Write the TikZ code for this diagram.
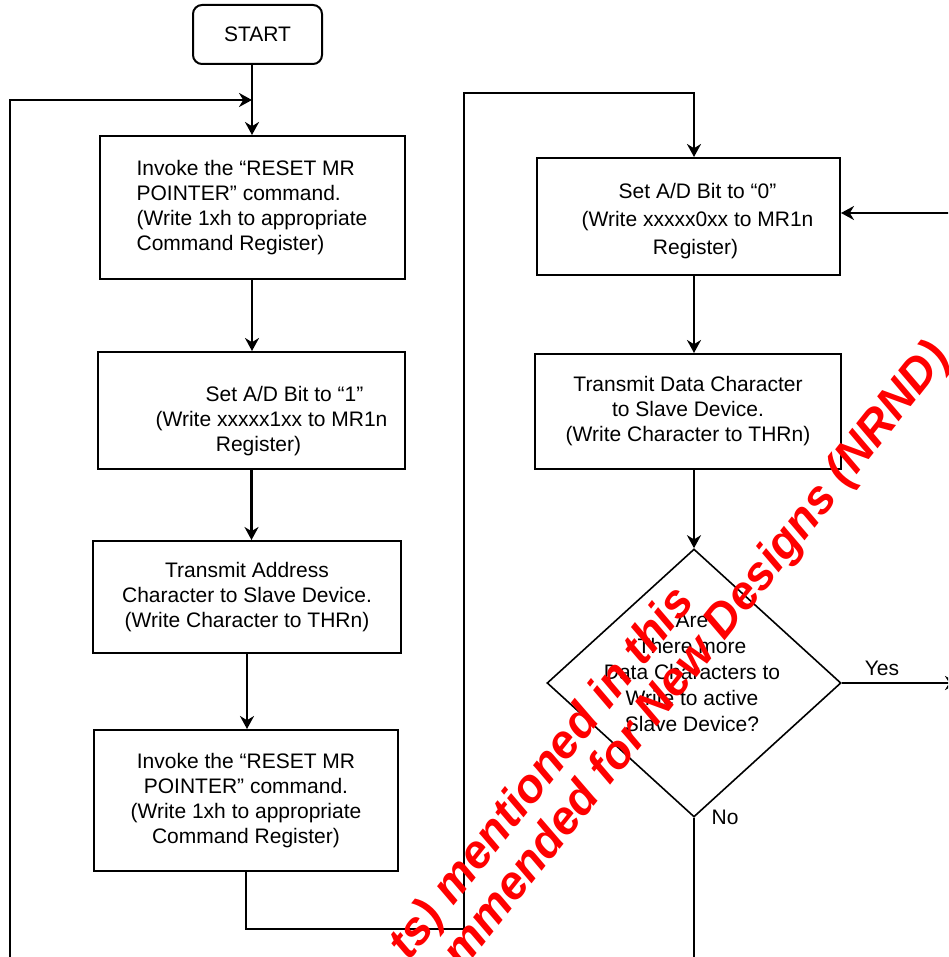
\documentclass[tikz,border=0pt]{standalone}
\usepackage{fontspec}
\setmainfont{Liberation Sans}
\usetikzlibrary{arrows.meta,shapes.geometric}

\begin{document}
\begin{tikzpicture}[x=1pt,y=-1pt,>={Stealth[length=13pt,width=14pt]},line width=2pt,
  font=\fontsize{21pt}{25pt}\selectfont,
  box/.style={draw,rectangle,inner sep=0pt,align=center},
  flow/.style={->,line width=2.2pt},
  nrnd/.style={text=red,inner sep=0pt,rotate=51.5,anchor=base east,
    font=\fontsize{47pt}{47pt}\selectfont\bfseries\itshape}]
  \useasboundingbox (0,0) rectangle (948,957);
  \clip (0,0) rectangle (948,957);
  \coordinate (leftin) at (10,975);
  \coordinate (bypass) at (464,93);
  \coordinate (rightin) at (960,213);
  \coordinate (yesout) at (958,683);
  \coordinate (noout) at (694,975);
  % left column
  \node[box,rounded corners=9pt,minimum width=129pt,minimum height=59pt] (start) at (257.5,34.5) {START};
  \node[box,align=left,minimum width=305pt,minimum height=143pt] (reset1) at (252,207.5)
    {Invoke the “RESET MR\\POINTER” command.\\(Write 1xh to appropriate\\Command Register)};
  \node[box,minimum width=307pt,minimum height=117pt] (setone) at (251.5,410.5)
    {\rule{0pt}{36pt}\hspace*{66pt}Set A/D Bit to “1”\\\hspace*{40pt}(Write xxxxx1xx to MR1n\\\hspace*{14pt}Register)};
  \node[box,minimum width=308pt,minimum height=112pt] (txaddr) at (247,597)
    {Transmit Address\\Character to Slave Device.\\(Write Character to THRn)};
  \node[box,minimum width=304pt,minimum height=141pt] (reset2) at (246,800.5)
    {Invoke the “RESET MR\\POINTER” command.\\(Write 1xh to appropriate\\Command Register)};
  % right column
  \node[box,minimum width=303pt,minimum height=117pt,font=\fontsize{21pt}{28pt}\selectfont] (setzero) at (688.5,216.5)
    {\rule{0pt}{24pt}\hspace*{18pt}Set A/D Bit to “0”\\\hspace*{18pt}(Write xxxxx0xx to MR1n\\\hspace*{14pt}Register)};
  \node[box,minimum width=306pt,minimum height=115pt] (txdata) at (688,411.5)
    {Transmit Data Character\\to Slave Device.\\(Write Character to THRn)};
  \node[draw,diamond,line width=1.6pt,inner sep=0pt,minimum width=294pt,minimum height=268pt] (more) at (694,683) {};
  \node[align=center,font=\fontsize{21pt}{26pt}\selectfont] (moretext) at (692,672)
    {Are\\There more\\Data Characters to\\Write to active\\Slave Device?};
  \node (yes) at (882,668) {Yes};
  \node (no) at (725,817) {No};
  % connectors
  \draw[flow] (start.south -| reset1.north) -- (reset1.north);
  \draw[flow] (leftin) |- (reset1.north |- 0,100);
  \draw[flow] (reset1.south) -- (reset1.south |- setone.north);
  \draw[flow] (setone.south) -- (setone.south |- txaddr.north);
  \draw[flow] (txaddr.south) -- (txaddr.south |- reset2.north);
  \draw[flow] (reset2.south) -- ++(0,57) -| (bypass) -| (more.north |- setzero.north);
  \draw[flow] (more.north |- setzero.south) -- (more.north |- txdata.north);
  \draw[flow] (more.north |- txdata.south) -- (more.north);
  \draw[flow] (rightin) -- (setzero.east |- rightin);
  \draw[flow] (more.east) -- (yesout);
  \draw[line width=2.2pt] (more.south) -- (noout);
  % watermark
  \node[nrnd] (nrnd1) at (696,601) {ts) mentioned in this};
  \node[nrnd] (nrnd2) at (951.5,356.5) {mmended for New Designs (NRND)};
\end{tikzpicture}
\end{document}
